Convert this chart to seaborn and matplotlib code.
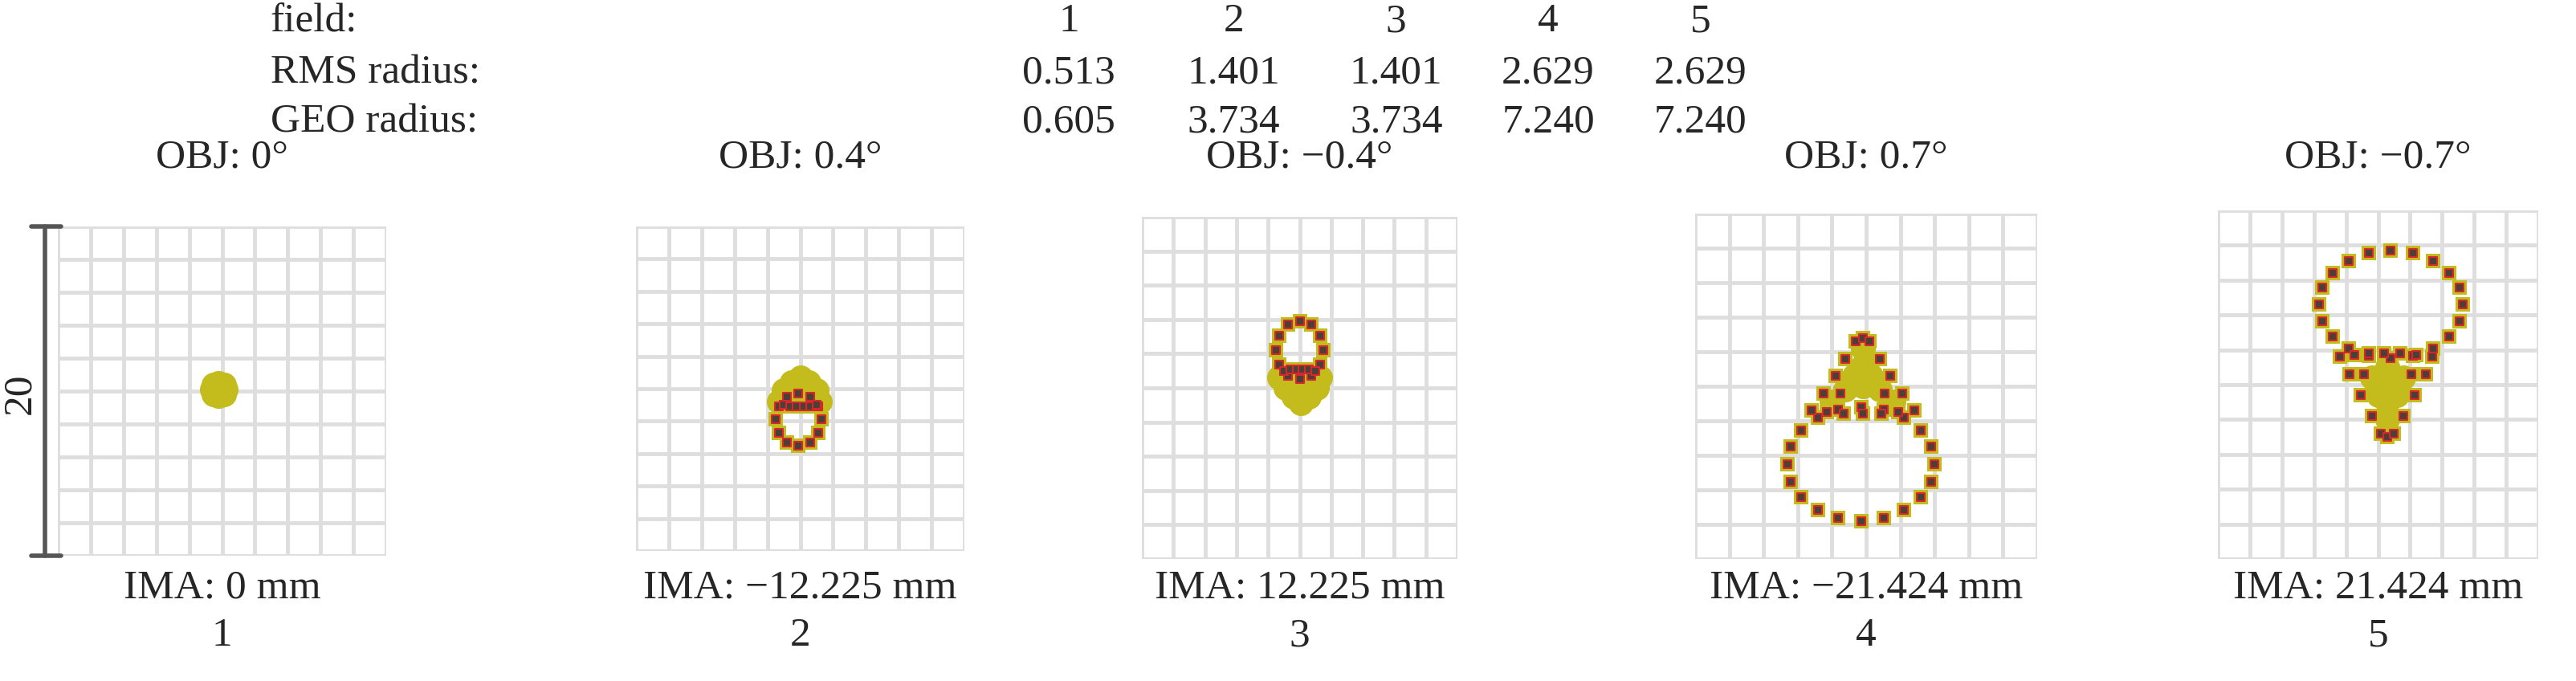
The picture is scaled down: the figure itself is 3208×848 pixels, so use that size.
import numpy as np
import pandas as pd
import matplotlib
matplotlib.use('Agg')
import matplotlib.pyplot as plt
import seaborn as sns

sns.set_theme(style='white')
plt.rcParams['font.family'] = ['Liberation Serif', 'DejaVu Serif']

# Header table
FIELDS = ['1', '2', '3', '4', '5']
RMS_RADIUS = ['0.513', '1.401', '1.401', '2.629', '2.629']
GEO_RADIUS = ['0.605', '3.734', '3.734', '7.240', '7.240']
OBJ_LABELS = ['OBJ: 0°', 'OBJ: 0.4°', 'OBJ: \u22120.4°', 'OBJ: 0.7°', 'OBJ: \u22120.7°']
IMA_LABELS = ['IMA: 0 mm', 'IMA: \u221212.225 mm', 'IMA: 12.225 mm',
              'IMA: \u221221.424 mm', 'IMA: 21.424 mm']
SCALE_LABEL = '20'

# Spot data (x, y in scale-bar units)
DOTS_1 = []
BLOB_1 = [(-0.2, 0.1), (-0.6, 0.1), (0.2, 0.1), (-0.2, 0.5), (-0.2, -0.3),
          (-0.5, 0.4), (0.1, 0.4), (-0.5, -0.2), (0.1, -0.2)]

DOTS_2 = [(1.3, -1.9), (1.1, -2.7), (0.6, -3.3), (-0.1, -3.5), (-0.8, -3.3), (-1.3, -2.7),
          (-1.5, -1.9), (-1.3, -1.1), (-0.8, -0.5), (-0.1, -0.3), (0.6, -0.5), (1.1, -1.1),
          (-1.0, -1.0), (-0.6, -1.1), (-0.2, -1.1), (0.2, -1.1), (0.6, -1.1), (1.0, -1.0)]
BLOB_2 = [(0.0, 0.7), (-0.5, 0.4), (0.5, 0.4), (-1.0, -0.1), (0.0, 0.0), (1.0, -0.1),
          (-1.3, -0.8), (-0.6, -0.6), (0.1, -0.6), (0.8, -0.6), (1.2, -0.8)]

DOTS_3 = [(1.5, 2.2), (1.3, 3.05), (0.75, 3.7), (0.0, 3.9), (-0.75, 3.7), (-1.3, 3.05),
          (-1.5, 2.2), (-1.3, 1.35), (-0.75, 0.7), (0.0, 0.5), (0.75, 0.7), (1.3, 1.35),
          (-1.0, 1.0), (-0.6, 1.1), (-0.2, 1.1), (0.2, 1.1), (0.6, 1.1), (1.0, 1.0)]
BLOB_3 = [(0.1, -0.9), (-0.4, -0.5), (0.6, -0.5), (-0.9, 0.0), (0.1, 0.0), (1.1, 0.0),
          (-1.3, 0.6), (-0.5, 0.5), (0.4, 0.5), (1.3, 0.6)]

DOTS_4 = [(4.0, -4.5), (3.79, -3.48), (3.18, -2.56), (2.23, -1.83), (1.03, -1.36),
          (-0.3, -1.2), (-1.63, -1.36), (-2.83, -1.83), (-3.78, -2.56), (-4.39, -3.48),
          (-4.6, -4.5), (-4.39, -5.52), (-3.78, -6.44), (-2.83, -7.17), (-1.63, -7.64),
          (-0.3, -7.8), (1.03, -7.64), (2.23, -7.17), (3.18, -6.44), (3.79, -5.52),
          (-0.6, 2.6), (-0.2, 2.8), (0.2, 2.6), (-1.2, 1.6), (0.8, 1.6), (-1.8, 0.6),
          (1.4, 0.6), (-2.5, -0.4), (2.1, -0.4), (-1.5, -0.4), (1.1, -0.4),
          (-3.2, -1.4), (-2.3, -1.5), (-1.3, -1.6), (-0.2, -1.6), (0.9, -1.6),
          (1.9, -1.5), (2.8, -1.4)]
BLOB_4 = [(-0.2, 2.2), (-0.2, 1.2), (-0.7, 0.6), (0.3, 0.6), (-0.2, 0.0), (-1.2, -0.2),
          (0.8, -0.2), (-2.0, -0.9), (1.6, -0.9)]

DOTS_5 = [(5.3, 4.6), (5.08, 5.56), (4.44, 6.42), (3.45, 7.11), (2.19, 7.55), (0.8, 7.7),
          (-0.59, 7.55), (-1.85, 7.11), (-2.84, 6.42), (-3.48, 5.56), (-3.7, 4.6),
          (-3.48, 3.64), (-2.84, 2.78), (-1.85, 2.09), (-0.59, 1.65), (0.8, 1.5),
          (2.19, 1.65), (3.45, 2.09), (4.44, 2.78), (5.08, 3.64),
          (-2.4, 1.6), (-1.5, 1.7), (-0.6, 1.8), (0.4, 1.8), (1.4, 1.8), (2.4, 1.7),
          (3.4, 1.6), (-1.8, 0.6), (-0.9, 0.6), (2.1, 0.6), (3.0, 0.6), (-1.1, -0.6),
          (2.3, -0.6), (-0.4, -1.8), (1.6, -1.8), (0.2, -2.8), (0.6, -3.0), (1.0, -2.8)]
BLOB_5 = [(0.6, 1.0), (0.6, 0.0), (0.6, -1.0), (0.6, -2.0), (-0.4, 0.4), (1.6, 0.4),
          (0.0, -0.6), (1.2, -0.6)]

DOTS = [DOTS_1, DOTS_2, DOTS_3, DOTS_4, DOTS_5]
BLOBS = [BLOB_1, BLOB_2, BLOB_3, BLOB_4, BLOB_5]

# Layout (figure fractions)
W, H = 3208, 848
PANELS = [(72, 481, 282, 692), (792, 1201, 282, 686), (1422, 1815, 270, 696),
          (2111, 2537, 266, 696), (2762, 3161, 262, 696)]
TABLE_X = [0.415, 0.479, 0.542, 0.601, 0.660]
FS = 37
YELLOW = '#c3bc1c'
GRID = '#dedede'

fig = plt.figure(figsize=(W / 100, H / 100), dpi=100)

for i, (x0, x1, y0, y1) in enumerate(PANELS):
    ax = fig.add_axes([x0 / W, 1 - y1 / H, (x1 - x0) / W, (y1 - y0) / H])
    ax.set_xlim(-10, 10)
    ax.set_ylim(-10, 10)
    ax.set_xticks(np.arange(-10, 11, 2))
    ax.set_yticks(np.arange(-10, 11, 2))
    ax.grid(True, color=GRID, lw=3.5)
    ax.tick_params(length=0, labelbottom=False, labelleft=False)
    for s in ax.spines.values():
        s.set_visible(False)
    blob = pd.DataFrame(BLOBS[i], columns=['x', 'y'])
    sns.scatterplot(data=blob, x='x', y='y', ax=ax, color=YELLOW, s=500,
                    marker='o', linewidth=0, legend=False, zorder=3)
    if DOTS[i]:
        dots = pd.DataFrame(DOTS[i], columns=['x', 'y'])
        sns.scatterplot(data=dots, x='x', y='y', ax=ax, color=YELLOW, s=150,
                        marker='s', linewidth=0, legend=False, zorder=4)
        sns.scatterplot(data=dots, x='x', y='y', ax=ax, color='#4a4038', s=50,
                        marker='s', edgecolor='#d8262a', linewidth=1.5,
                        legend=False, zorder=5)
    ax.set_xlabel('')
    ax.set_ylabel('')
    cx = (x0 + x1) / 2 / W
    fig.text(cx, 1 - 196 / H, OBJ_LABELS[i], ha='center', va='center', fontsize=FS)
    fig.text(cx, 1 - 732 / H, IMA_LABELS[i], ha='center', va='center', fontsize=FS)
    fig.text(cx, 1 - 792 / H, FIELDS[i], ha='center', va='center', fontsize=FS)
    if i == 0:
        ax.plot([-10.8, -10.8], [-10, 10], color='#555555', lw=4, clip_on=False)
        ax.plot([-11.6, -9.8], [10, 10], color='#555555', lw=4, clip_on=False)
        ax.plot([-11.6, -9.8], [-10, -10], color='#555555', lw=4, clip_on=False)
        fig.text(25 / W, 1 - 490 / H, SCALE_LABEL, rotation=90, ha='center',
                 va='center', fontsize=FS)

rows = [('field:', FIELDS), ('RMS radius:', RMS_RADIUS), ('GEO radius:', GEO_RADIUS)]
for yy, (label, vals) in zip([0.968, 0.892, 0.820], rows):
    fig.text(0.105, yy, label, ha='left', va='center', fontsize=FS)
    for xx, v in zip(TABLE_X, vals):
        fig.text(xx, yy, v, ha='center', va='center', fontsize=FS)

fig.savefig('out.png', dpi=100, facecolor='white')
